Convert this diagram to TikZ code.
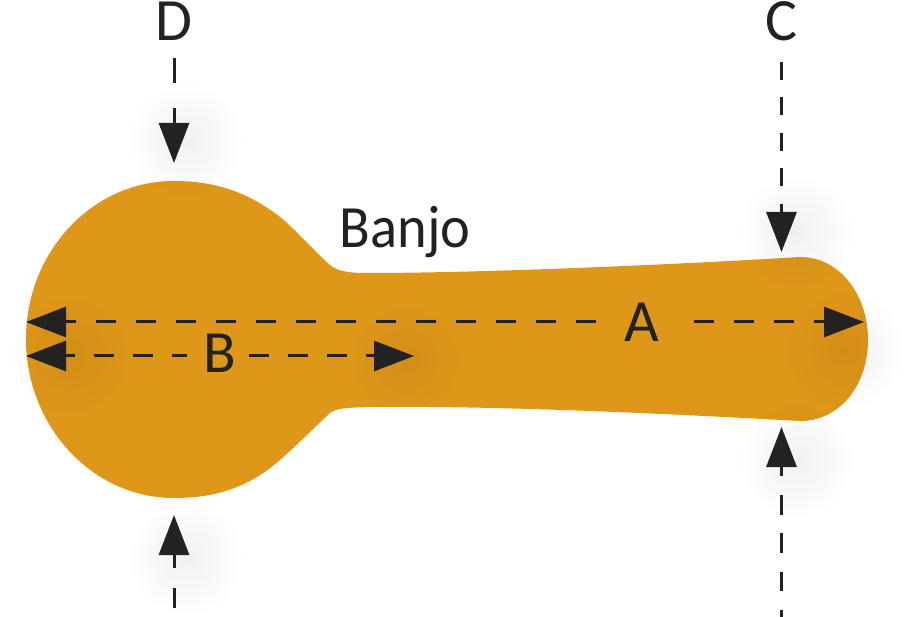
\documentclass[tikz,border=0pt]{standalone}
\usepackage{fontspec}
\setmainfont{Carlito}
\newfontfamily\narrowfont[FakeStretch=0.94]{Carlito}
\usetikzlibrary{arrows.meta,fadings}
\tikzfading[name=softblob, inner color=transparent!0, middle color=transparent!45, outer color=transparent!100]
\definecolor{banjo}{HTML}{DF9719}
\definecolor{ink}{HTML}{222222}
\tikzset{
  dim/.style={draw=ink, line width=3pt, dash pattern=on 20pt off 20pt, -{Triangle[length=40pt,width=30pt,fill=ink]}},
  lab/.style={text=ink, inner sep=0pt, font=\fontsize{60}{61}\selectfont},
  blob/.style={fill=black, fill opacity=.06, path fading=softblob, draw=none}
}
\begin{document}
\begin{tikzpicture}[x=1pt,y=-1pt]
\useasboundingbox (0,0) rectangle (913,617);
% body
\fill[banjo] (174,181)
  .. controls (92,181) and (26,252) .. (26,339)
  .. controls (26,426) and (92,498) .. (174,498)
  .. controls (215,498) and (248,488) .. (280,460)
  .. controls (296,446) and (312,430) .. (330,413)
  .. controls (338,407) and (352,408) .. (367,407)
  .. controls (470,406) and (600,410) .. (800,421)
  .. controls (840,421) and (868,385) .. (868,340)
  .. controls (868,295) and (840,257) .. (800,257)
  .. controls (650,266) and (470,273) .. (367,273)
  .. controls (352,273) and (338,272) .. (330,265)
  .. controls (312,249) and (296,230) .. (280,217)
  .. controls (248,192) and (215,181) .. (174,181) -- cycle;
% soft shadows
\fill[blob] (70,355) circle (60);
\fill[blob] (405,360) circle (55);
\fill[blob] (845,350) circle (60);
\fill[blob] (186,140) circle (58);
\fill[blob] (186,558) circle (58);
\fill[blob] (796,232) circle (58);
\fill[blob] (796,460) circle (58);
% labels
\node[lab] (labD) at (174,21.5) {D};
\node[lab] (labC) at (781.5,21.5) {C};
\node[lab, font=\fontsize{60}{61}\selectfont\narrowfont] (labBanjo) at (405,232) {Banjo};
\node[lab] (labA) at (642,322) {A};
\node[lab, text depth=6pt] (labB) at (219.5,356) {B};
% free ends
\coordinate (tipAL) at (26,322);
\coordinate (tipAR) at (864,322);
\coordinate (tipBL) at (26,356);
\coordinate (tipBR) at (414,356);
\coordinate (tipDT) at (174,163);
\coordinate (tipDB) at (174,515);
\coordinate (tipCT) at (781.5,252);
\coordinate (tipCB) at (781.5,427);
\coordinate (endDB) at (174,608);
\coordinate (endCB) at (781.5,617);
% connectors
\draw[dim, shorten <=46pt] (labA.center) -- (tipAL);
\draw[dim, shorten <=52pt] (labA.center) -- (tipAR);
\draw[dim, shorten <=32.5pt, dash pattern=on 19.5pt off 19.5pt, dash phase=4.5pt] (labB.center) -- (tipBL);
\draw[dim, shorten <=29.5pt, dash pattern=on 19.5pt off 19.5pt] (labB.center) -- (tipBR);
\draw[dim, shorten <=36.5pt, dash pattern=on 25pt off 25pt] (labD.center) -- (tipDT);
\draw[dim, shorten <=40.5pt, dash pattern=on 18pt off 17.5pt] (labC.center) -- (tipCT);
\draw[dim] (endDB) -- (tipDB);
\draw[dim, dash pattern=on 19.5pt off 18.8pt, dash phase=12.5pt] (endCB) -- (tipCB);
\end{tikzpicture}
\end{document}
